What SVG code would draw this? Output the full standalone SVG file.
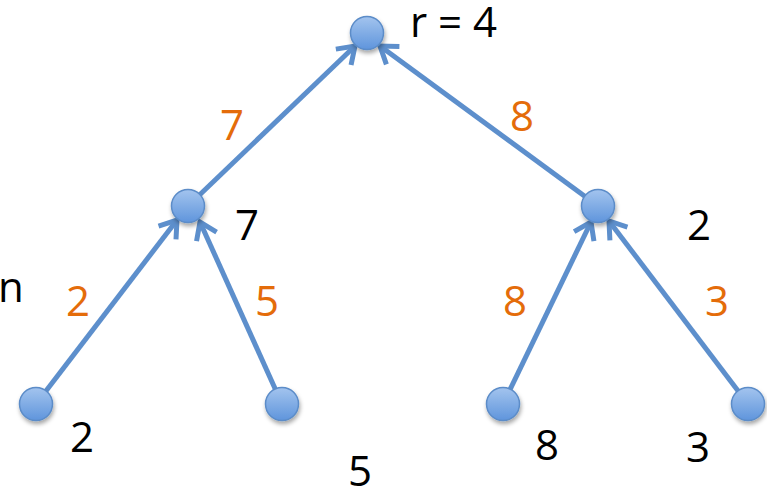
<svg xmlns="http://www.w3.org/2000/svg" width="767" height="489" viewBox="0 0 767 489">
<style>
.n{fill:url(#g);stroke:#5b8cc8;stroke-width:1.5;filter:url(#sh)}
.e{stroke:#5d8fcc;stroke-width:5;fill:none;marker-end:url(#a)}
.t{font-family:"Open Sans","Liberation Sans",sans-serif;font-size:42px;fill:#000}
.o{font-family:"Open Sans","Liberation Sans",sans-serif;font-size:42px;fill:#e46c0a}
</style>
<defs>
<linearGradient id="g" x1="0" y1="0" x2="0" y2="1">
<stop offset="0" stop-color="#a3c4ee"/>
<stop offset="1" stop-color="#5f95dc"/>
</linearGradient>
<filter id="sh" x="-50%" y="-50%" width="200%" height="200%">
<feDropShadow dx="1" dy="3" stdDeviation="2" flood-color="#000" flood-opacity="0.35"/>
</filter>
<marker id="a" markerUnits="userSpaceOnUse" markerWidth="40" markerHeight="40" refX="0" refY="0" viewBox="-20 -20 40 40" orient="auto" overflow="visible">
<path d="M -16 -11 L 0 0 L -16 11" fill="none" stroke="#5d8fcc" stroke-width="5" stroke-linejoin="miter"/>
</marker>
</defs>
<g id="connectors">
<line class="e" x1="188" y1="206" x2="355" y2="46"/>
<line class="e" x1="598" y1="206" x2="380" y2="46"/>
<line class="e" x1="36" y1="404" x2="177" y2="220"/>
<line class="e" x1="282" y1="404" x2="200" y2="222"/>
<line class="e" x1="503" y1="404" x2="591" y2="222"/>
<line class="e" x1="748" y1="404" x2="609" y2="221"/>
</g>
<g id="root"><circle class="n" cx="367" cy="33" r="16.5"/><text class="t" x="410" y="37">r = 4</text></g>
<g id="midL"><circle class="n" cx="188" cy="206" r="16.5"/><text class="t" x="235" y="240">7</text></g>
<g id="midR"><circle class="n" cx="598" cy="206" r="16.5"/><text class="t" x="687" y="240">2</text></g>
<g id="leaf1"><circle class="n" cx="36" cy="404" r="16.5"/><text class="t" x="70" y="452">2</text></g>
<g id="leaf2"><circle class="n" cx="282" cy="404" r="16.5"/><text class="t" x="348" y="486">5</text></g>
<g id="leaf3"><circle class="n" cx="503" cy="404" r="16.5"/><text class="t" x="535" y="460">8</text></g>
<g id="leaf4"><circle class="n" cx="748" cy="404" r="16.5"/><text class="t" x="686" y="462">3</text></g>
<g id="labels">
<text class="t" x="-2" y="302">n</text>
<text class="o" x="220" y="140">7</text>
<text class="o" x="510" y="131">8</text>
<text class="o" x="66" y="316">2</text>
<text class="o" x="255" y="316">5</text>
<text class="o" x="503" y="316">8</text>
<text class="o" x="705" y="316">3</text>
</g>
</svg>
